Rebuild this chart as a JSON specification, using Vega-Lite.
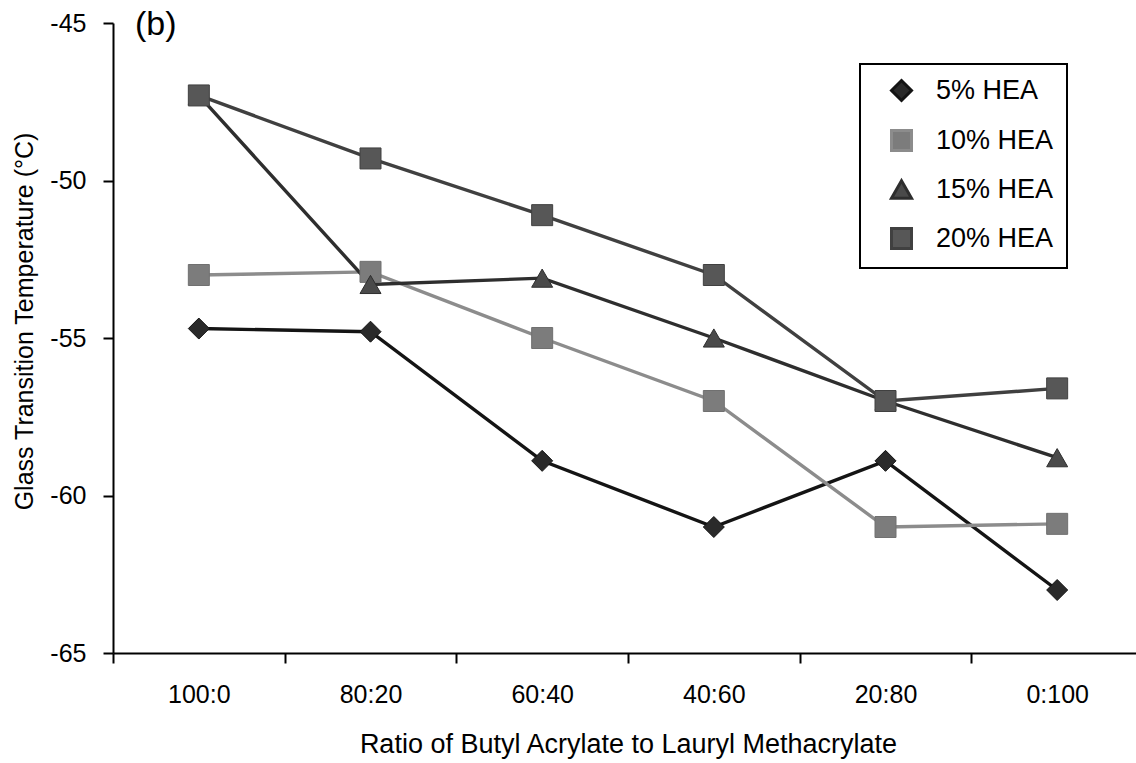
{
  "$schema": "https://vega.github.io/schema/vega-lite/v6.json",
  "width": 1023,
  "height": 630,
  "autosize": "none",
  "padding": {"left": 113, "top": 23, "right": 0, "bottom": 110},
  "background": "white",
  "title": {
    "text": ["", "(b)"],
    "anchor": "start",
    "frame": "group",
    "orient": "top",
    "offset": -48,
    "baseline": "middle",
    "lineHeight": 62,
    "dx": 22,
    "font": "Liberation Sans",
    "fontSize": 34,
    "fontWeight": "normal",
    "color": "black"
  },
  "config": {
    "font": "Liberation Sans",
    "view": {"stroke": null},
    "axis": {
      "domainColor": "black",
      "domainWidth": 2,
      "tickColor": "black",
      "tickWidth": 2,
      "tickSize": 10,
      "labelColor": "black",
      "labelFont": "Liberation Sans",
      "labelFontSize": 25,
      "titleColor": "black",
      "titleFont": "Liberation Sans",
      "titleFontSize": 25,
      "titleFontWeight": "normal",
      "grid": false
    },
    "legend": {
      "title": null,
      "orient": "none",
      "legendX": 747,
      "legendY": 41,
      "padding": 13,
      "strokeColor": "black",
      "fillColor": "white",
      "symbolSize": 400,
      "symbolStrokeWidth": 3,
      "symbolOffset": 15,
      "labelOffset": 21,
      "labelFont": "Liberation Sans",
      "labelFontSize": 27,
      "labelColor": "black",
      "labelLimit": 300,
      "rowPadding": 17
    }
  },
  "data": {
    "values": [
      {"ratio": "100:0", "series": "5% HEA", "tg": -54.7},
      {"ratio": "80:20", "series": "5% HEA", "tg": -54.8},
      {"ratio": "60:40", "series": "5% HEA", "tg": -58.9},
      {"ratio": "40:60", "series": "5% HEA", "tg": -61.0},
      {"ratio": "20:80", "series": "5% HEA", "tg": -58.9},
      {"ratio": "0:100", "series": "5% HEA", "tg": -63.0},
      {"ratio": "100:0", "series": "10% HEA", "tg": -53.0},
      {"ratio": "80:20", "series": "10% HEA", "tg": -52.9},
      {"ratio": "60:40", "series": "10% HEA", "tg": -55.0},
      {"ratio": "40:60", "series": "10% HEA", "tg": -57.0},
      {"ratio": "20:80", "series": "10% HEA", "tg": -61.0},
      {"ratio": "0:100", "series": "10% HEA", "tg": -60.9},
      {"ratio": "100:0", "series": "15% HEA", "tg": -47.3},
      {"ratio": "80:20", "series": "15% HEA", "tg": -53.3},
      {"ratio": "60:40", "series": "15% HEA", "tg": -53.1},
      {"ratio": "40:60", "series": "15% HEA", "tg": -55.0},
      {"ratio": "20:80", "series": "15% HEA", "tg": -57.0},
      {"ratio": "0:100", "series": "15% HEA", "tg": -58.8},
      {"ratio": "100:0", "series": "20% HEA", "tg": -47.3},
      {"ratio": "80:20", "series": "20% HEA", "tg": -49.3},
      {"ratio": "60:40", "series": "20% HEA", "tg": -51.1},
      {"ratio": "40:60", "series": "20% HEA", "tg": -53.0},
      {"ratio": "20:80", "series": "20% HEA", "tg": -57.0},
      {"ratio": "0:100", "series": "20% HEA", "tg": -56.6}
    ]
  },
  "encoding": {
    "x": {
      "field": "ratio",
      "type": "nominal",
      "sort": ["100:0", "80:20", "60:40", "40:60", "20:80", "0:100"],
      "bandPosition": 0.5,
      "scale": {"type": "band", "paddingInner": 0, "paddingOuter": 0, "range": [0, 1030]},
      "axis": {
        "title": "Ratio of Butyl Acrylate to Lauryl Methacrylate",
        "titleFontSize": 27,
        "labelAngle": 0,
        "tickBand": "extent",
        "labelPadding": 19,
        "titlePadding": 24
      }
    },
    "y": {
      "field": "tg",
      "type": "quantitative",
      "scale": {"domain": [-65, -45], "nice": false, "zero": false},
      "axis": {
        "title": "Glass Transition Temperature (°C)",
        "values": [-65, -60, -55, -50, -45],
        "labelExpr": "toString(datum.value)",
        "labelPadding": 17,
        "titlePadding": 12,
        "titleY": 298
      }
    }
  },
  "layer": [
    {
      "mark": {"type": "line", "strokeWidth": 3.4},
      "encoding": {
        "color": {
          "field": "series",
          "type": "nominal",
          "scale": {
            "domain": ["5% HEA", "10% HEA", "15% HEA", "20% HEA"],
            "range": ["#141414", "#8c8c8c", "#2e2e2e", "#404040"]
          },
          "legend": {
            "encode": {
              "legend": {"update": {"strokeWidth": {"value": 2}}},
              "symbols": {
                "update": {
                  "shape": {"signal": "datum.value == '5% HEA' ? 'M-3,0H-1L0,-1L1,0L0,1L-1,0M1,0H3' : datum.value == '15% HEA' ? 'M-3,0H-0.5M0.5,0H3M0,-0.87L1,0.87H-1Z' : 'M-3,0H-1M1,0H3M-1,-1H1V1H-1Z'"},
                  "fill": {"signal": "datum.value == '5% HEA' ? '#2a2a2a' : datum.value == '10% HEA' ? '#7c7c7c' : datum.value == '15% HEA' ? '#4a4a4a' : '#575757'"},
                  "stroke": {"signal": "datum.value == '5% HEA' ? '#141414' : datum.value == '10% HEA' ? '#8c8c8c' : datum.value == '15% HEA' ? '#2e2e2e' : '#404040'"},
                  "strokeWidth": {"value": 3},
                  "opacity": {"value": 1},
                  "size": {"value": 400}
                }
              }
            }
          }
        }
      }
    },
    {
      "mark": {"type": "point", "filled": true, "opacity": 1, "size": 441, "strokeWidth": 1},
      "encoding": {
        "shape": {
          "field": "series",
          "type": "nominal",
          "scale": {
            "domain": ["5% HEA", "10% HEA", "15% HEA", "20% HEA"],
            "range": ["diamond", "square", "triangle-up", "square"]
          },
          "legend": {
            "encode": {
              "legend": {"update": {"strokeWidth": {"value": 2}}},
              "symbols": {
                "update": {
                  "shape": {"signal": "datum.value == '5% HEA' ? 'M-3,0H-1L0,-1L1,0L0,1L-1,0M1,0H3' : datum.value == '15% HEA' ? 'M-3,0H-0.5M0.5,0H3M0,-0.87L1,0.87H-1Z' : 'M-3,0H-1M1,0H3M-1,-1H1V1H-1Z'"},
                  "fill": {"signal": "datum.value == '5% HEA' ? '#2a2a2a' : datum.value == '10% HEA' ? '#7c7c7c' : datum.value == '15% HEA' ? '#4a4a4a' : '#575757'"},
                  "stroke": {"signal": "datum.value == '5% HEA' ? '#141414' : datum.value == '10% HEA' ? '#8c8c8c' : datum.value == '15% HEA' ? '#2e2e2e' : '#404040'"},
                  "strokeWidth": {"value": 3},
                  "opacity": {"value": 1},
                  "size": {"value": 400}
                }
              }
            }
          }
        },
        "fill": {
          "field": "series",
          "type": "nominal",
          "scale": {
            "domain": ["5% HEA", "10% HEA", "15% HEA", "20% HEA"],
            "range": ["#2a2a2a", "#7c7c7c", "#4a4a4a", "#575757"]
          }
        },
        "stroke": {
          "field": "series",
          "type": "nominal",
          "scale": {
            "domain": ["5% HEA", "10% HEA", "15% HEA", "20% HEA"],
            "range": ["#141414", "#707070", "#2e2e2e", "#404040"]
          }
        }
      }
    }
  ]
}
